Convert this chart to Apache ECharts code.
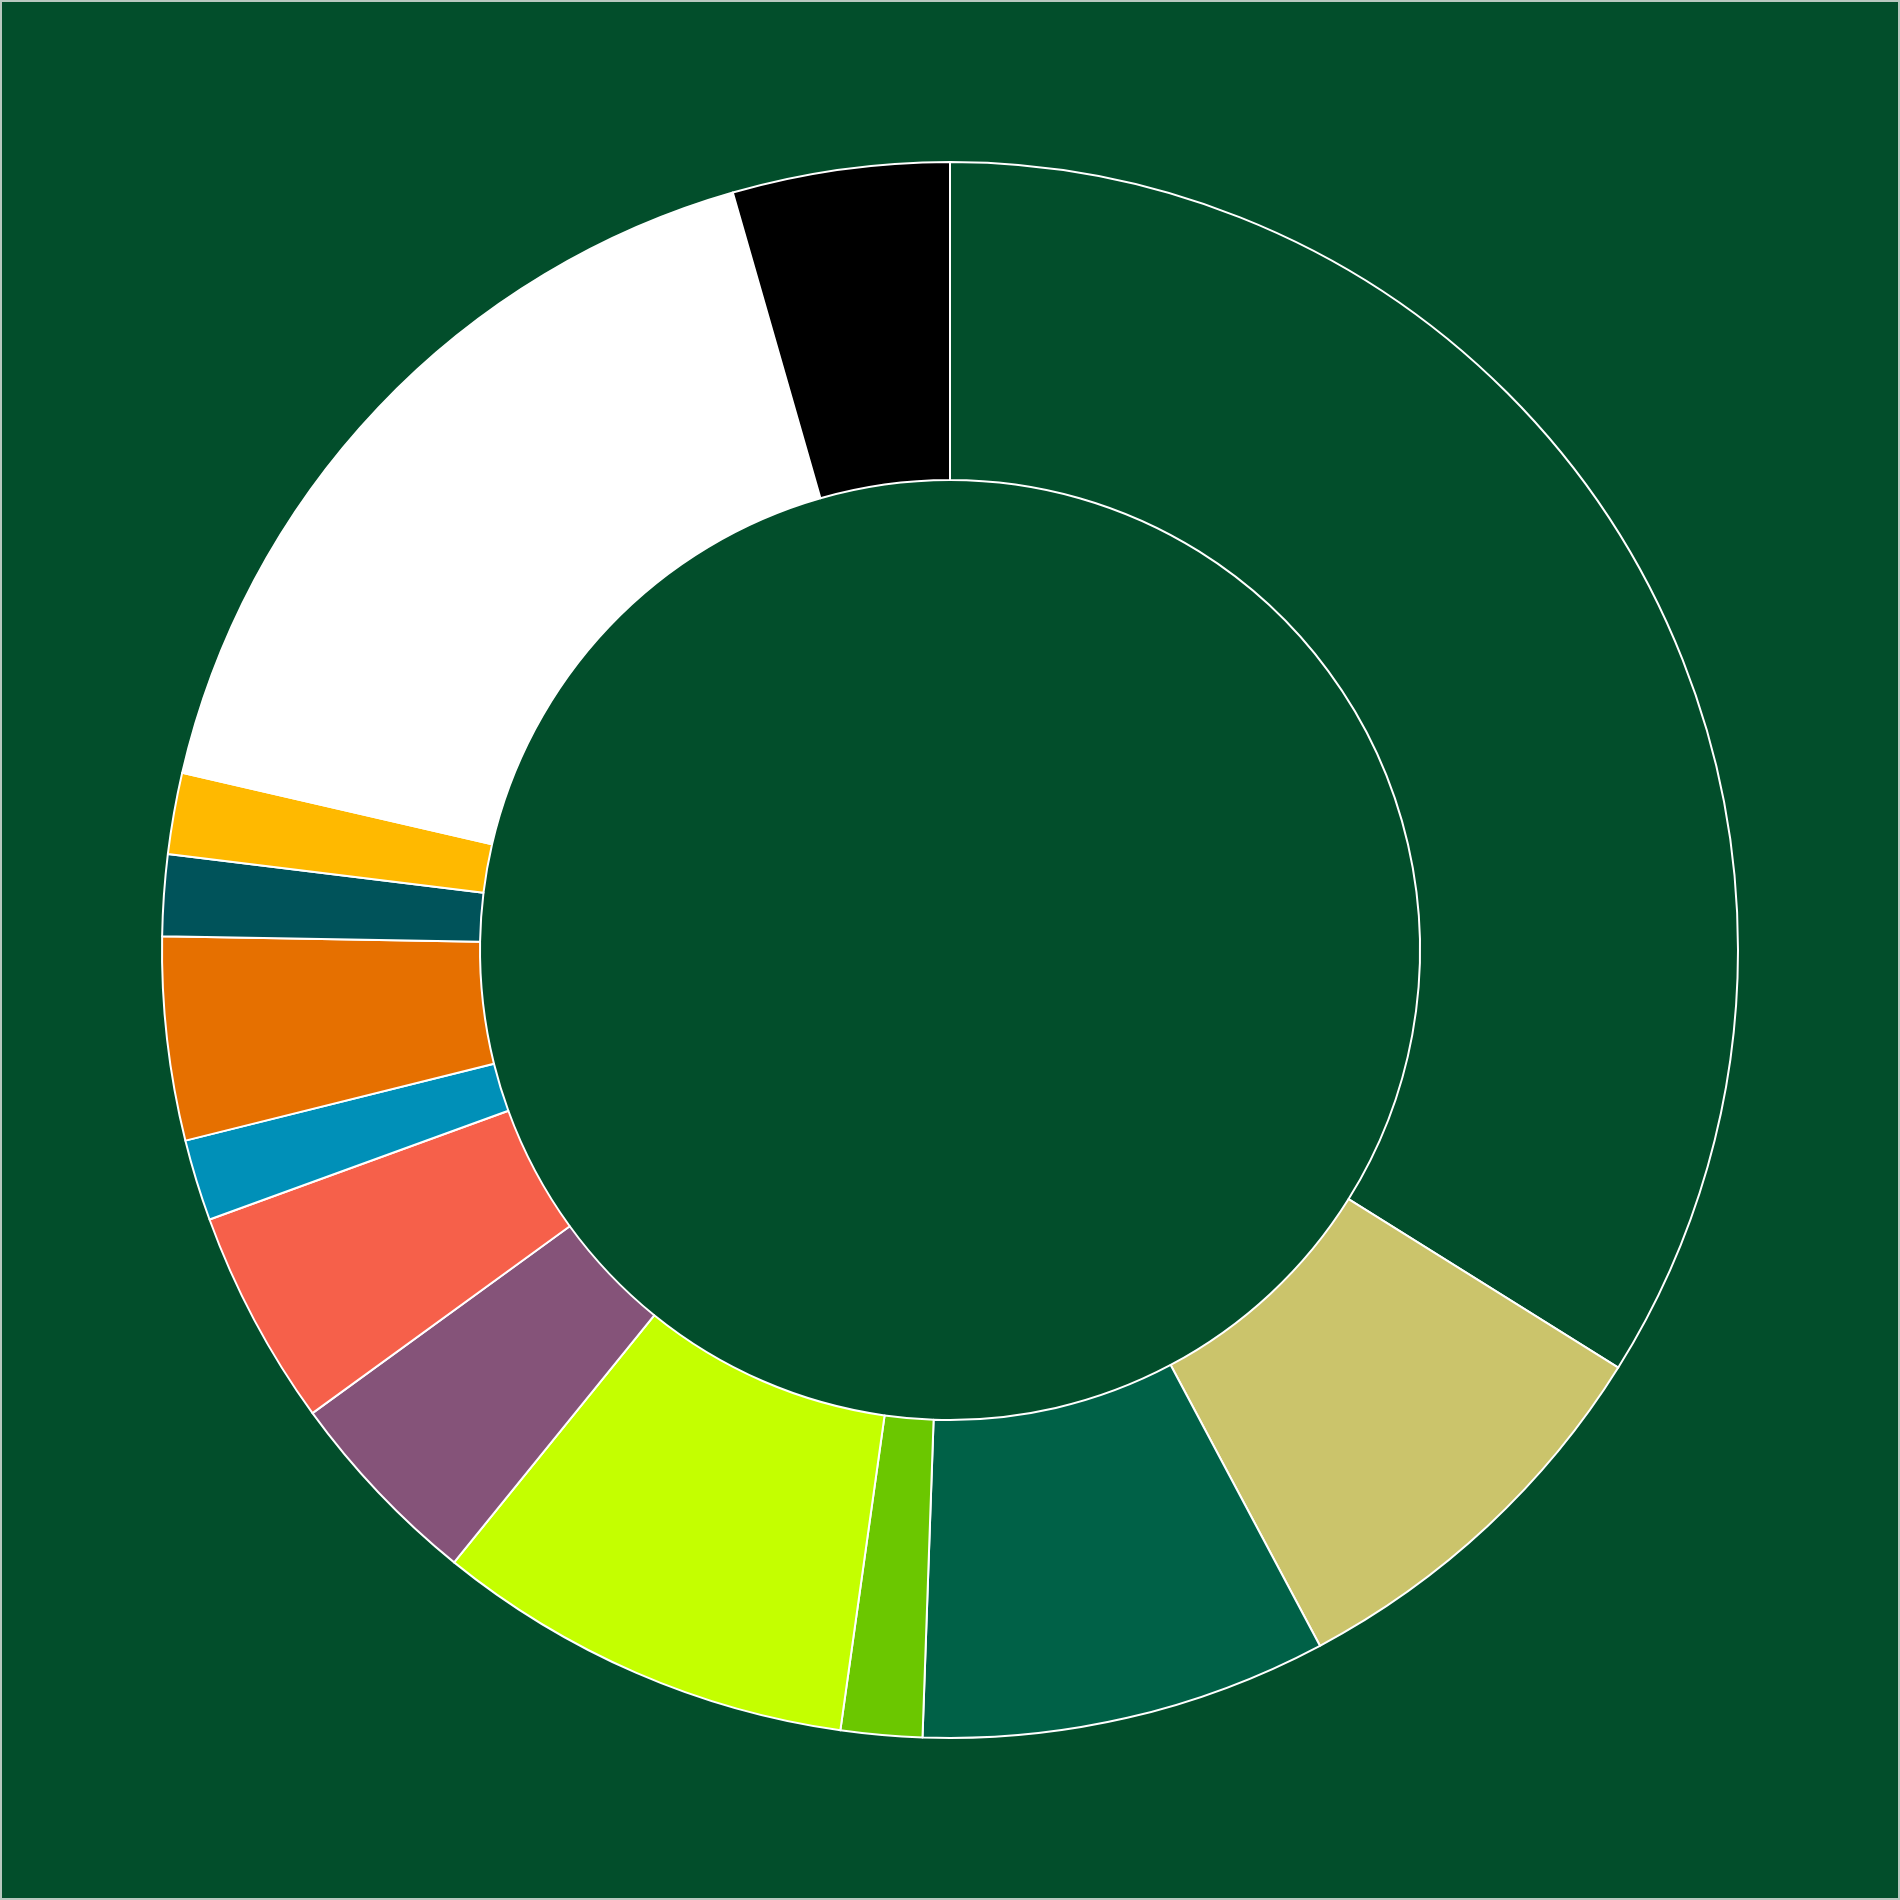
<!DOCTYPE html>
<html>
<head>
<meta charset="utf-8">
<script src="https://cdn.jsdelivr.net/npm/echarts@6/dist/echarts.min.js"></script>
<style>
  html, body { margin: 0; padding: 0; background: #024e2b; }
  #chart { width: 1900px; height: 1900px; box-sizing: border-box; border: 2px solid #b8c8bf; }
</style>
</head>
<body>
<div id="chart"></div>
<script>
const categories = ['A','B','C','D','E','F','G','H','I','J','K','L','M'];
const values = [122, 30, 30, 6, 31, 15, 16, 6, 15, 6, 6, 61, 16];
const colors = ['#024e2b','#cbc46b','#006147','#6bc700','#c4ff00','#855379','#f6604a','#0090b8','#e67000','#00535a','#ffb900','#ffffff','#000000'];

const chart = echarts.init(document.getElementById('chart'), null, { renderer: 'canvas' });
chart.setOption({
  backgroundColor: '#024e2b',
  animation: false,
  series: [{
    type: 'pie',
    center: ['50%', '50%'],
    radius: [470, 788],
    startAngle: 90,
    clockwise: true,
    label: { show: false },
    labelLine: { show: false },
    emphasis: { disabled: true },
    itemStyle: { borderColor: '#ffffff', borderWidth: 2 },
    data: categories.map((c, i) => ({ name: c, value: values[i], itemStyle: { color: colors[i] } }))
  }]
});
</script>
</body>
</html>
